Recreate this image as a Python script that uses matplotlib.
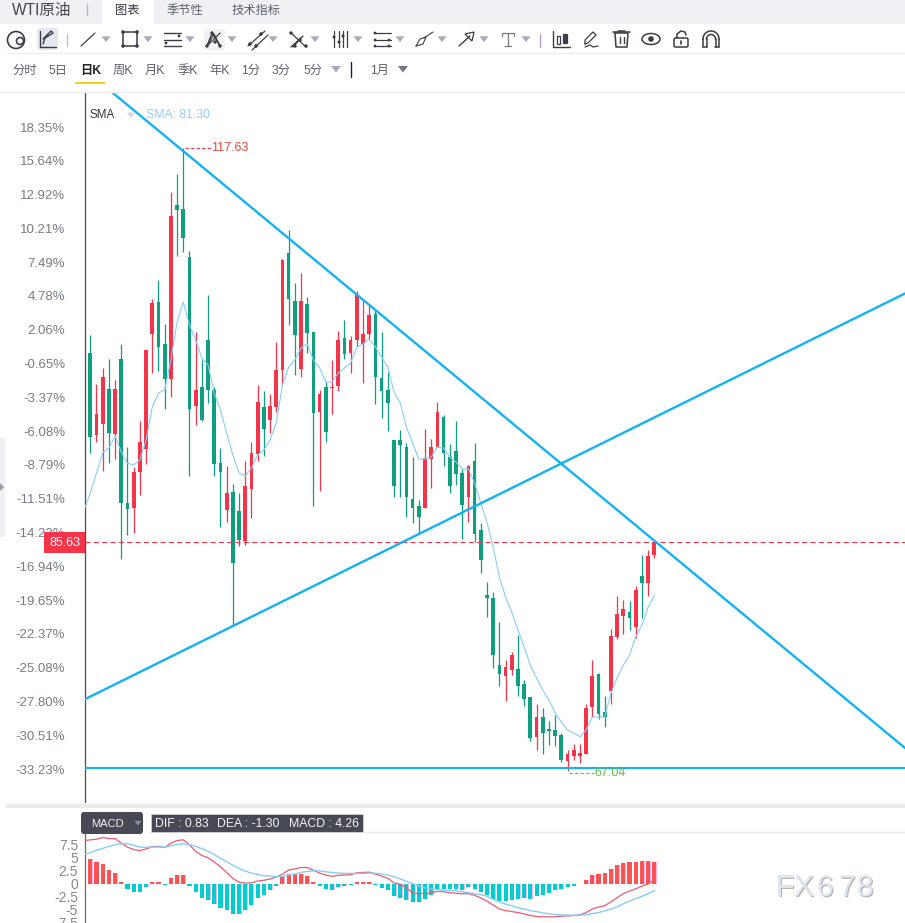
import numpy as np
import matplotlib
matplotlib.use('Agg')
import matplotlib.pyplot as plt
import matplotlib.patheffects as pe
from matplotlib.patches import Rectangle, FancyBboxPatch, Circle, Polygon, Ellipse

plt.rcParams['font.family'] = ['Liberation Sans', 'Noto Sans CJK SC', 'DejaVu Sans']

# daily candles, oldest first
opens = [100.98, 94.32, 95.21, 98.05, 94.40, 100.49, 88.80, 88.39, 91.31, 93.18, 102.52, 105.12, 101.71, 98.87, 112.99, 112.67,
         108.77, 96.67, 98.22, 102.03, 97.97, 92.04, 88.23, 89.69, 88.15, 85.71, 89.93, 92.78, 96.59, 95.54, 96.59, 99.60,
         109.10, 105.20, 99.68, 104.96, 102.68, 96.19, 98.22, 98.13, 98.30, 102.19, 100.98, 102.03, 101.71, 102.52, 104.14, 98.95,
         97.97, 93.91, 93.91, 93.34, 89.12, 88.55, 88.39, 92.37, 93.34, 95.78, 92.53, 93.02, 91.23, 89.28, 92.21, 86.60,
         81.33, 81.08, 75.64, 74.75, 75.24, 75.32, 74.10, 73.04, 69.80, 71.42, 70.45, 70.36, 69.96, 67.85, 68.25, 68.25,
         68.42, 72.23, 74.91, 71.83, 73.53, 77.92, 79.62, 79.95, 78.73, 82.87, 82.30, 84.57]
highs = [102.44, 98.46, 99.76, 100.49, 98.78, 101.71, 93.34, 91.72, 95.45, 101.30, 105.36, 106.90, 103.33, 114.05, 115.51, 117.63,
         109.26, 102.68, 100.41, 105.69, 98.22, 93.26, 91.80, 90.34, 89.61, 92.21, 93.75, 98.38, 97.89, 97.65, 101.87, 108.61,
         110.96, 106.66, 107.47, 105.52, 102.68, 97.97, 98.62, 100.41, 102.76, 103.66, 102.36, 106.01, 105.20, 104.87, 104.47, 102.68,
         99.43, 93.91, 94.72, 93.67, 92.53, 89.04, 94.81, 93.99, 97.00, 95.94, 93.59, 95.45, 91.56, 91.88, 93.67, 87.17,
         82.38, 81.57, 79.13, 76.05, 76.70, 78.08, 74.42, 73.04, 72.48, 72.15, 71.09, 71.58, 70.12, 68.74, 69.23, 69.23,
         72.48, 76.05, 74.99, 73.12, 78.57, 81.24, 80.92, 80.84, 82.06, 84.57, 84.98, 85.63]
lows = [92.86, 93.75, 91.39, 92.04, 92.37, 84.25, 86.20, 86.36, 89.45, 91.96, 99.35, 99.51, 96.43, 97.40, 108.85, 109.18,
        90.99, 95.13, 95.45, 96.92, 90.99, 86.85, 87.25, 78.81, 85.30, 85.39, 87.58, 92.21, 92.61, 94.48, 96.19, 98.38,
        103.25, 99.19, 99.03, 100.98, 88.55, 89.77, 93.75, 96.02, 97.89, 100.49, 99.35, 101.54, 98.54, 102.11, 96.84, 95.70,
        94.64, 89.28, 89.28, 87.66, 87.17, 86.28, 88.39, 90.01, 93.34, 91.80, 89.61, 90.26, 85.87, 87.25, 85.63, 83.11,
        79.54, 75.40, 73.94, 72.72, 74.83, 73.12, 72.31, 69.47, 68.74, 68.42, 69.15, 69.06, 67.77, 67.04, 67.93, 67.68,
        68.42, 71.42, 71.26, 70.61, 72.48, 77.75, 78.16, 78.48, 77.83, 79.46, 81.24, 84.33]
closes = [94.16, 96.02, 99.03, 94.48, 98.05, 88.80, 88.31, 91.31, 93.75, 101.22, 105.04, 101.46, 98.87, 112.10, 112.59, 110.31,
          96.43, 97.97, 95.54, 97.97, 91.96, 91.31, 89.61, 83.92, 85.79, 90.18, 92.86, 97.00, 94.81, 96.67, 99.60, 108.53,
          105.36, 102.44, 105.20, 102.60, 96.10, 97.65, 94.56, 98.22, 102.03, 100.90, 102.03, 105.69, 102.52, 104.06, 99.03, 97.89,
          96.92, 90.18, 93.51, 89.28, 88.39, 87.66, 92.45, 93.34, 96.19, 92.86, 90.18, 91.15, 88.63, 91.80, 86.28, 84.17,
          81.08, 76.45, 74.91, 75.48, 76.45, 73.94, 72.88, 69.71, 71.42, 70.12, 70.28, 69.88, 67.93, 68.42, 68.74, 68.50,
          72.15, 74.75, 71.66, 71.42, 78.00, 79.78, 80.19, 79.46, 81.73, 82.30, 84.49, 85.63]

# first point sits one session before the first candle
sma = [88.23, 89.61, 91.23, 92.86, 93.26, 94.24, 92.94, 92.04, 91.88, 92.29, 93.91, 96.59, 97.73, 97.97, 100.41, 103.49, 105.12,
       103.25, 102.03, 100.57, 100.00, 97.73, 96.35, 94.48, 92.69, 91.23, 90.99, 91.64, 92.69, 93.10, 93.91, 95.29, 98.38,
       99.84, 100.41, 101.38, 101.71, 100.41, 99.76, 98.62, 98.62, 99.35, 99.76, 100.16, 101.46, 101.71, 102.11, 101.46, 100.65,
       99.84, 97.81, 96.92, 94.97, 93.67, 92.37, 92.37, 92.53, 93.34, 93.26, 92.53, 92.13, 91.56, 91.56, 90.42, 88.80,
       87.25, 85.22, 82.79, 81.16, 79.95, 78.48, 77.10, 75.64, 74.59, 73.61, 72.80, 71.74, 71.01, 70.36, 70.12, 69.80,
       70.36, 71.42, 71.42, 71.42, 73.37, 74.59, 75.64, 76.45, 77.92, 78.89, 80.35, 81.30]

macd = [4.69, 4.10, 3.75, 2.60, 2.05, 0.40, -0.94, -1.50, -1.50, -0.56, 0.38, 0.38, -0.19, 1.13, 1.69, 1.69,
        -0.38, -1.56, -2.69, -3.10, -3.90, -4.56, -5.06, -5.80, -5.80, -5.06, -4.06, -2.69, -2.06, -1.25, -0.38, 1.44,
        1.81, 1.81, 1.88, 1.50, 0.38, -0.38, -1.06, -1.13, -0.56, -0.38, -0.31, 0.38, 0.38, 0.38, -0.19, -0.81,
        -1.25, -2.38, -2.63, -3.00, -3.38, -3.44, -2.81, -2.06, -0.94, -0.94, -0.94, -0.94, -1.13, -0.63, -1.06, -1.50,
        -2.06, -2.81, -3.31, -3.31, -3.00, -2.81, -2.69, -2.81, -2.31, -2.06, -1.69, -1.25, -1.06, -0.69, -0.38, -0.06,
        0.75, 1.69, 1.88, 2.06, 2.81, 3.56, 3.94, 4.13, 4.13, 4.31, 4.31, 4.26]
dif = [8.31, 8.44, 8.56, 8.88, 8.69, 8.69, 7.81, 7.06, 6.56, 6.38, 6.69, 7.13, 7.19, 6.94, 7.81, 8.31, 8.44,
       7.50, 6.25, 5.44, 5.00, 4.19, 3.25, 2.19, 1.06, 0.31, 0.13, 0.19, 0.56, 0.69, 0.94, 1.31, 1.88,
       2.63, 2.88, 3.13, 3.13, 2.63, 2.06, 1.69, 1.44, 1.63, 1.69, 1.75, 2.13, 2.19, 2.25, 1.88, 1.50,
       1.06, 0.19, -0.06, -0.81, -1.69, -1.88, -1.88, -1.69, -1.44, -1.50, -1.69, -1.81, -1.88, -1.88, -2.19, -2.69,
       -3.31, -4.06, -4.81, -5.13, -5.31, -5.50, -5.75, -6.06, -6.25, -6.31, -6.31, -6.31, -6.19, -6.13, -6.06, -5.94,
       -5.50, -4.81, -4.44, -4.19, -3.44, -2.63, -1.88, -1.38, -0.94, -0.44, 0.00, 0.83]
dea = [5.63, 5.94, 6.44, 6.81, 7.19, 7.50, 7.69, 7.69, 7.38, 7.06, 7.00, 7.06, 7.06, 7.06, 7.31, 7.56, 7.69,
       7.50, 7.19, 6.75, 6.25, 5.63, 4.94, 4.25, 3.56, 2.94, 2.44, 2.06, 1.81, 1.56, 1.50, 1.38, 1.44,
       1.69, 1.88, 2.19, 2.38, 2.50, 2.50, 2.31, 2.19, 2.06, 2.00, 2.00, 2.00, 2.00, 2.06, 2.06, 1.88,
       1.69, 1.38, 0.94, 0.50, 0.06, -0.44, -0.75, -0.94, -1.06, -1.19, -1.25, -1.31, -1.50, -1.69, -1.88, -2.06,
       -2.38, -2.94, -3.44, -3.88, -4.19, -4.56, -4.81, -5.13, -5.31, -5.56, -5.75, -5.88, -5.94, -6.00, -6.00, -6.00,
       -5.88, -5.69, -5.50, -5.19, -4.81, -4.38, -3.81, -3.31, -2.81, -2.38, -1.88, -1.30]

pct_labels = ['18.35%', '15.64%', '12.92%', '10.21%', '7.49%', '4.78%', '2.06%', '-0.65%', '-3.37%', '-6.08%',
              '-8.79%', '-11.51%', '-14.22%', '-16.94%', '-19.65%', '-22.37%', '-25.08%', '-27.80%', '-30.51%', '-33.23%']
pct_values = [18.35, 15.64, 12.92, 10.21, 7.49, 4.78, 2.06, -0.65, -3.37, -6.08,
              -8.79, -11.51, -14.22, -16.94, -19.65, -22.37, -25.08, -27.80, -30.51, -33.23]
macd_ticks = [7.5, 5, 2.5, 0, -2.5, -5, -7.5]
macd_tick_labels = ['7.5', '5', '2.5', '0', '-2.5', '-5', '-7.5']
last_price = 85.63
high_price = 117.63
low_price = 67.04
support_price = 67.28
falling_trend = [(15, 117.37), (91, 85.74)]
rising_trend = [(23, 78.81), (53, 86.28)]

UP = '#F5344A'
DOWN = '#0E9F7E'
TREND = '#12B3F5'
SMA_BLUE = '#86CCFB'
W, H = 905, 923

fig = plt.figure(figsize=(W / 100, H / 100), dpi=100, facecolor='white')


def box(left, top, right, bottom):
    return [left / W, 1 - bottom / H, (right - left) / W, (bottom - top) / H]


# index <-> pixel: candles are 6.198 px apart, the first one at x=90.3
xlim = ((85 - 90.3) / 6.198, (905 - 90.3) / 6.198)

ax = fig.add_axes(box(85, 93, 905, 802))
ax.set_xlim(xlim)
ax.set_ylim(64.52, 122.09)
ax.set_xticks([])
for s in ['top', 'right', 'bottom']:
    ax.spines[s].set_visible(False)
ax.spines['left'].set_color('#4A4A4A')
ax.spines['left'].set_linewidth(0.9)
# percent scale runs linearly against the price scale
ax.set_yticks([100.78 + 1.0107 * p for p in pct_values])
ax.set_yticklabels(pct_labels, fontsize=9.5, color='#777C86')
ax.tick_params(axis='y', length=0, pad=14.2)

idx = np.arange(len(closes))
o, h, l, c = map(np.array, (opens, highs, lows, closes))
colors = [UP if cc >= oo else DOWN for oo, cc in zip(o, c)]
ax.vlines(idx, l, h, colors=colors, linewidth=0.9, zorder=2)
ax.bar(idx, np.abs(c - o), bottom=np.minimum(o, c), width=0.6, color=colors, linewidth=0, zorder=3)
ax.plot(np.arange(-1, len(sma) - 1), sma, color=SMA_BLUE, lw=0.8, zorder=4)

ax.axhline(last_price, color=UP, lw=0.8, ls=(0, (4.5, 3)), zorder=4)
ax.axline(*falling_trend, color=TREND, lw=1.7, zorder=5)
ax.axline(*rising_trend, color=TREND, lw=1.7, zorder=5)
ax.axhline(support_price, color=TREND, lw=1.5, zorder=5)

ax.plot([15.2, 19.4], [high_price, high_price], color=UP, lw=0.8, ls=(0, (3, 2)), zorder=4)
ax.text(19.5, high_price, '117.63', color='#E9473B', fontsize=9, va='center', zorder=6)
ax.plot([77.3, 81.2], [low_price - 0.15, low_price - 0.15], color='#63B94B', lw=0.8, ls=(0, (3, 2)), zorder=4)
ax.text(81.4, low_price - 0.2, '67.04', color='#63B94B', fontsize=9, va='center', zorder=6)

ax2 = fig.add_axes(box(85, 833, 905, 923))
ax2.set_xlim(xlim)
ax2.set_ylim(-7.125, 9.75)
ax2.set_xticks([])
for s in ['top', 'right', 'bottom']:
    ax2.spines[s].set_visible(False)
ax2.spines['left'].set_color('#6A6A6A')
ax2.spines['left'].set_linewidth(0.9)
ax2.set_yticks(macd_ticks)
ax2.set_yticklabels(macd_tick_labels, fontsize=10, color='#8A8A8A')
ax2.tick_params(axis='y', length=0, pad=5)
m = np.array(macd)
ax2.bar(idx + 0.08, m, width=0.68, color='#F3B5EC', linewidth=0, zorder=1)
ax2.bar(idx, m, width=0.66, color=['#FF5252' if v >= 0 else '#00CDD0' for v in m], linewidth=0, zorder=2)
ax2.plot(np.arange(-1, len(dif) - 1), dif, color='#EE5A6E', lw=0.9, zorder=3)
ax2.plot(np.arange(-1, len(dea) - 1), dea, color=SMA_BLUE, lw=1.0, zorder=3)

# page furniture, drawn in pixel coordinates on top of the charts
ui = fig.add_axes([0, 0, 1, 1], facecolor='none', zorder=10)
ui.set_xlim(0, W)
ui.set_ylim(H, 0)
ui.axis('off')


def label(x, y, s, size=8.6, color='#5A5F6B', ha='left', **kw):
    ui.text(x, y, s, fontsize=size, color=color, ha=ha, va='center', **kw)


def seg(xs, ys, color='#3A3D45', lw=1.0):
    ui.plot(xs, ys, color=color, lw=lw, solid_capstyle='round')


def dots(pts, r=1.8, color='#3A3D45'):
    for p in pts:
        ui.add_patch(Circle(p, r, fc=color, ec='none'))


def tri(x, y, size=4.5, color='#A9ACB8'):
    ui.add_patch(Polygon([(x - size, y - size * 0.6), (x + size, y - size * 0.6), (x, y + size * 0.7)], fc=color, ec='none'))


ui.add_patch(Rectangle((0, 0), W, 24, fc='#EFF1F5', ec='none'))
ui.add_patch(Rectangle((102, 0), 52, 24, fc='white', ec='none'))
label(12, 11, 'WTI原油', size=11.2, color='#44474F')
seg([87, 87], [4, 15], color='#B5B8C0')
label(127, 11, '图表', size=8.8, color='#33363D', ha='center')
label(185, 11, '季节性', size=8.8, ha='center')
label(256, 11, '技术指标', size=8.8, ha='center')

seg([6, W], [53, 53], color='#EEEEEE')
seg([0, W], [92, 92], color='#EEEEEE')

# drawing toolbar
ui.add_patch(FancyBboxPatch((37, 28), 21, 22, boxstyle='round,pad=0,rounding_size=3', fc='#E4E8F0', ec='none'))
ui.add_patch(FancyBboxPatch((204, 29), 21, 21, boxstyle='round,pad=0,rounding_size=3', fc='#EFF1F3', ec='none'))
ui.add_patch(Circle((16, 40), 8.5, fc='none', ec='#3A3D45', lw=1.2))
ui.add_patch(Circle((20, 41), 3.5, fc='white', ec='#3A3D45', lw=1.2))
seg([40, 40, 56], [31, 47, 47], lw=1.0)
seg([43, 45, 53, 51, 43], [44, 38, 33, 31, 39], lw=1.0)
seg([67, 67], [34, 46], color='#B9C6D6', lw=1)
seg([81, 95], [46, 33], lw=0.9)
tri(106, 39)
ui.add_patch(Rectangle((123, 32), 14, 14, fc='none', ec='#3A3D45', lw=1.1))
dots([(123, 32), (137, 32), (123, 46), (137, 46)])
tri(148, 39)
for yy in (33, 40, 46):
    seg([164, 181], [yy, yy], lw=1.0)
dots([(179, 36), (166, 43)], r=1.4)
tri(190, 39)
seg([207, 212, 220, 214, 207], [46, 33, 46, 34, 46], lw=0.9)
seg([207, 220], [46, 33], lw=0.9)
dots([(207, 46), (212, 33), (220, 46), (215, 42)], r=1.7)
tri(232, 39)
seg([248, 265], [46, 31], lw=0.9)
seg([252, 268], [50, 35], lw=0.9)
dots([(250, 44), (261, 34), (256, 46)], r=1.8)
tri(273, 39)
seg([291, 306], [33, 47], lw=0.9)
seg([293, 303, 291], [47, 36, 47], lw=0.9)
dots([(291, 33), (295, 46), (306, 46), (300, 40)], r=1.7)
tri(315, 39)
for xx in (334, 338.5, 343, 347):
    seg([xx, xx], [31, 47], lw=0.9)
dots([(334, 37), (339, 42), (343, 36)], r=1.5)
tri(358, 39)
for yy in (33, 40, 46):
    seg([374, 391], [yy, yy], lw=0.9)
dots([(375, 33), (375, 40), (375, 46), (389, 40), (389, 46)], r=1.4)
tri(400, 39)
seg([416, 420, 426, 423, 416], [46, 39, 37, 44, 46], lw=0.8)
seg([424, 433], [38, 32], lw=0.8)
tri(442, 39)
seg([459, 470], [46, 36], lw=1.0)
ui.add_patch(Polygon([(474, 32), (465, 34), (472, 41)], fc='none', ec='#3A3D45', lw=0.9))
tri(484, 39)
seg([502, 502, 514, 514], [36, 33, 33, 36], color='#777A82', lw=0.9)
seg([508, 508], [33, 46], color='#777A82', lw=0.9)
seg([505, 511], [46, 46], color='#777A82', lw=0.9)
tri(526, 39)
seg([540, 540], [34, 47], color='#B79BD0', lw=1.0)
seg([553, 553, 570], [31, 47, 47], lw=1.0)
ui.add_patch(Rectangle((557, 36), 3, 8, fc='white', ec='#3A3D45', lw=0.9))
ui.add_patch(Rectangle((563, 34), 3.5, 9, fc='#3A3D45', ec='#3A3D45', lw=0.9))
seg([585, 588, 596, 593, 585, 585], [44, 43, 35, 32, 40, 44], lw=0.9)
seg([585, 590, 593, 598], [47, 45, 47, 46], lw=0.9)
seg([613, 630], [32, 32], lw=1.1)
seg([618, 625], [30.5, 30.5], lw=1.1)
seg([615, 616, 627, 628, 615], [33, 47, 47, 33, 33], lw=1.1)
seg([619.5, 619.5], [37, 43], lw=1.0)
seg([623.5, 623.5], [37, 43], lw=1.0)
ui.add_patch(Ellipse((651, 39), 18, 11, fc='none', ec='#3A3D45', lw=1.1))
dots([(651, 39)], r=2.8)
ui.add_patch(FancyBboxPatch((674, 38), 14, 9, boxstyle='round,pad=0,rounding_size=1.5', fc='none', ec='#3A3D45', lw=1.1))
seg([677, 677, 681, 685, 686], [38, 34, 31, 32, 35], lw=1.1)
seg([681, 681], [41, 44], lw=1.2)
theta = np.linspace(np.pi, 2 * np.pi, 30)
for r in (8, 4.5):
    ui.plot(711 + r * np.cos(theta), 39 + r * np.sin(theta), color='#3A3D45', lw=1.1)
    seg([711 - r, 711 - r], [39, 47], lw=1.1)
    seg([711 + r, 711 + r], [39, 47], lw=1.1)
seg([703, 707], [47, 47], lw=1.1)
seg([715, 719], [47, 47], lw=1.1)

# period row
for x, s in [(12, '分时'), (48, '5日'), (113, '周K'), (145, '月K'), (177, '季K'), (209, '年K'), (241, '1分'),
             (272, '3分'), (303, '5分'), (370, '1月')]:
    label(x, 71, s, size=8.8)
label(80, 71, '日K', size=8.8, color='#222222', fontweight='bold')
ui.add_patch(Rectangle((75, 81.5), 30, 2.2, fc='#F8CF1E', ec='none'))
tri(336, 69, size=5, color='#A5A9C0')
seg([351, 351], [62, 77], color='#222222', lw=1.0)
tri(403, 69, size=5, color='#72767F')

label(89, 114.5, 'SMA', size=8.4, color='#33363D')
tri(131, 115, size=4, color='#D5D8DE')
label(146, 114.5, 'SMA: 81.30', size=8.8, color='#90D1FB')

# last price tag over the axis labels
ui.add_patch(Rectangle((44, 532), 41, 21, fc='#F5344A', ec='none'))
label(64.5, 542.5, '85.63', size=9, color='white', ha='center')

# left side handle
ui.add_patch(Rectangle((0, 437), 5, 100, fc='#F0F1F3', ec='none'))
ui.add_patch(Polygon([(0, 483), (4, 487), (0, 491)], fc='#9A9DA5', ec='none'))

ui.add_patch(Rectangle((6, 804), W - 6, 3.5, fc='#EBEBEB', ec='none'))
seg([363, W], [832, 832], color='#EBEBEB')
ui.add_patch(FancyBboxPatch((81, 812), 62, 22, boxstyle='round,pad=0,rounding_size=3', fc='#474A54', ec='none'))
label(91, 824, 'MACD', size=8, color='#F2F2F2')
tri(138, 823, size=3.5, color='#8C8F98')
ui.add_patch(Rectangle((150.5, 813.5), 212, 18.5, fc='#474A54', ec='#C9CBD0', lw=0.7))
label(155, 824, 'DIF : 0.83', size=8.8, color='#F5F5F5')
label(217, 824, 'DEA : -1.30', size=8.8, color='#F5F5F5')
label(289, 824, 'MACD : 4.26', size=8.8, color='#F5F5F5')

# watermark
shadow = [pe.withSimplePatchShadow(offset=(0.8, -0.8), shadow_rgbFace='#B9B2A8', alpha=1.0)]
for x, ch in [(776, 'F'), (794, 'X'), (817, '6'), (839, '7'), (857, '8')]:
    ui.text(x, 888, ch, fontsize=21.5, color='#DCE6F3', va='center', ha='left', path_effects=shadow)

fig.savefig('out.png', dpi=100)
